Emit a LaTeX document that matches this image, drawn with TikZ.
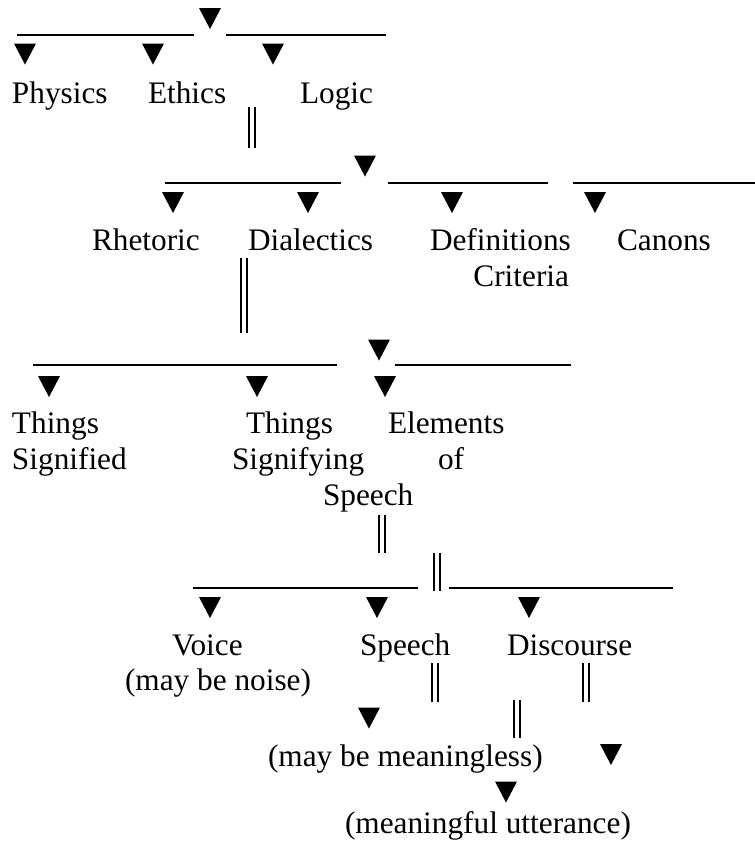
\documentclass[tikz,border=0pt]{standalone}
\usepackage{fontspec}
\setmainfont{Liberation Serif}
\tikzset{
  tri/.style={inner sep=0pt, outer sep=0pt, minimum width=22pt, minimum height=21pt,
    path picture={\fill (path picture bounding box.north west) -- (path picture bounding box.north east) -- (path picture bounding box.south) -- cycle;}},
  dbar/.style={inner sep=0pt, outer sep=0pt, minimum width=9pt,
    path picture={
      \draw[line width=1.8pt] ([xshift=1.5pt]path picture bounding box.north west) -- ([xshift=1.5pt]path picture bounding box.south west);
      \draw[line width=1.8pt] ([xshift=-1.5pt]path picture bounding box.north east) -- ([xshift=-1.5pt]path picture bounding box.south east);}},
  lbl/.style={inner sep=0pt, outer sep=0pt, anchor=base west, font=\fontsize{31.3}{36}\selectfont},
  lblr/.style={lbl, anchor=base east},
  hline/.style={line width=2.2pt},
}
\begin{document}
\begin{tikzpicture}[x=1pt, y=-1pt]
\useasboundingbox (0,0) rectangle (755,847);
% level 1
\node[tri] (t0) at (210,18.5) {};
\draw[hline] (17,35) -- (194,35);
\draw[hline] (226,35) -- (386,35);
\node[tri] (tphy) at (25,54) {};
\node[tri] (teth) at (153,54) {};
\node[tri] (tlog) at (273,54) {};
\node[lbl] (physics) at (12,103) {Physics};
\node[lbl] (ethics) at (148,103) {Ethics};
\node[lbl] (logic) at (300,103) {Logic};
\node[dbar, minimum height=41pt] (d1) at (252,127.5) {};
% level 2
\node[tri] (t1) at (365,166) {};
\draw[hline] (165,183) -- (341,183);
\draw[hline] (388,183) -- (548,183);
\draw[hline] (573,183) -- (755,183);
\node[tri] (trhe) at (173,202.5) {};
\node[tri] (tdia) at (308,202.5) {};
\node[tri] (tdef) at (452,202.5) {};
\node[tri] (tcan) at (595,202.5) {};
\node[lbl] (rhetoric) at (92,250) {Rhetoric};
\node[lbl] (dialectics) at (248,250) {Dialectics};
\node[lbl] (definitions) at (430,250) {Definitions};
\node[lblr] (criteria) at (569,286) {Criteria};
\node[lbl] (canons) at (617,250) {Canons};
\node[dbar, minimum height=75pt] (d2) at (244,295.5) {};
% level 3
\node[tri] (t2) at (379,350) {};
\draw[hline] (33,365) -- (337,365);
\draw[hline] (395,365) -- (571,365);
\node[tri] (tsig) at (49,386.5) {};
\node[tri] (tsgn) at (257,386.5) {};
\node[tri] (tele) at (385,386.5) {};
\node[lbl] (things1) at (12,433) {Things};
\node[lbl] (signified) at (12,469) {Signified};
\node[lbl] (things2) at (246,433) {Things};
\node[lbl] (signifying) at (232,469) {Signifying};
\node[lbl] (elements) at (388,433) {Elements};
\node[lbl] (of) at (438,469) {of};
\node[lbl] (speech1) at (323,505) {Speech};
\node[dbar, minimum height=38pt] (d3) at (382,534) {};
% level 4
\node[dbar, minimum height=38pt] (d4) at (437,572) {};
\draw[hline] (193,588) -- (418,588);
\draw[hline] (449,588) -- (673,588);
\node[tri] (tvoi) at (210,607.5) {};
\node[tri] (tspe) at (377,607.5) {};
\node[tri] (tdis) at (529,607.5) {};
\node[lbl] (voice) at (172,655) {Voice};
\node[lblr] (noise) at (311,690) {(may be noise)};
\node[lbl] (speech2) at (360,655) {Speech};
\node[lbl] (discourse) at (507,655) {Discourse};
\node[dbar, minimum height=39pt] (d5) at (435,682.5) {};
\node[dbar, minimum height=39pt] (d6) at (586,682.5) {};
\node[dbar, minimum height=38pt] (d7) at (517,719) {};
\node[tri] (tmls) at (369,718) {};
\node[tri] (tdr) at (611,754.5) {};
\node[lbl] (meaningless) at (268,766) {(may be meaningless)};
\node[tri] (tmf) at (506,792) {};
\node[lbl] (meaningful) at (345,833) {(meaningful utterance)};
\end{tikzpicture}
\end{document}
